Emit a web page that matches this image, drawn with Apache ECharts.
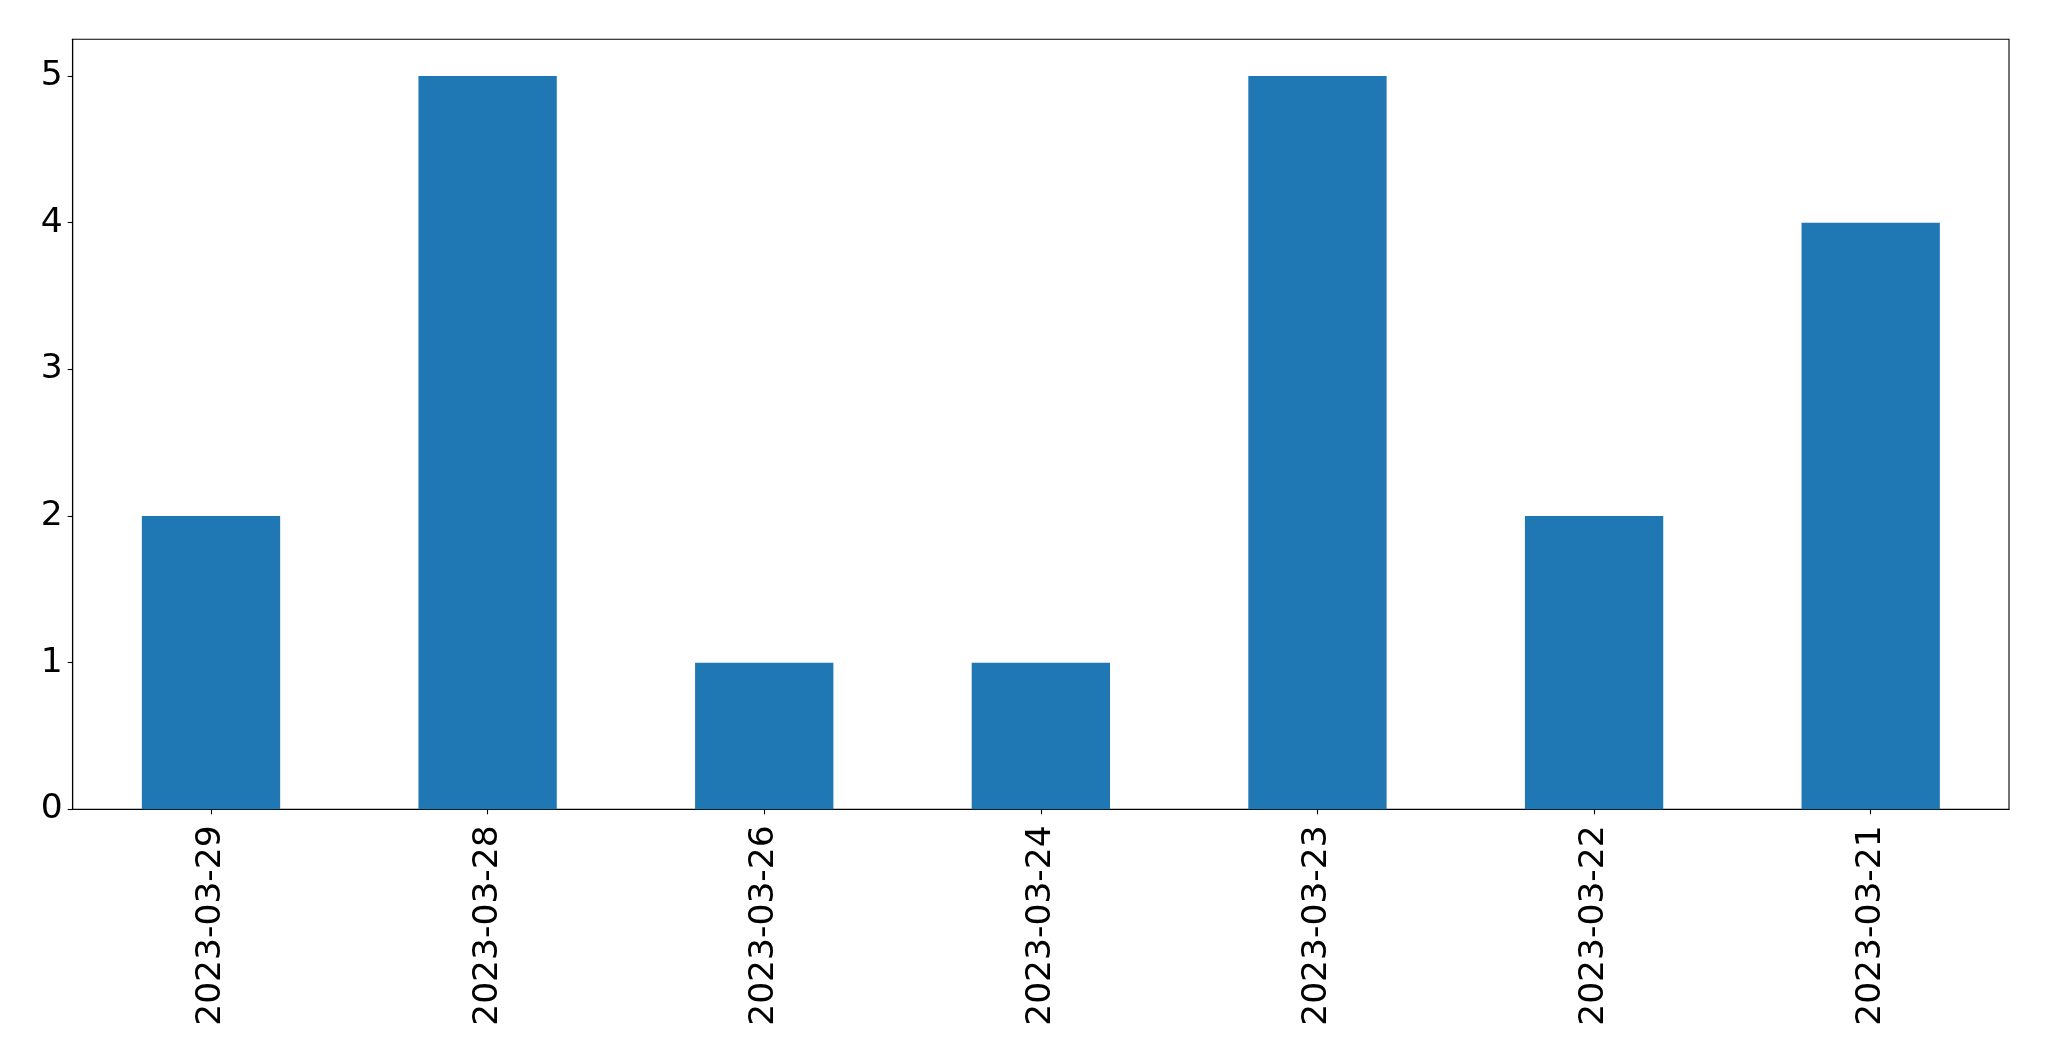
<!DOCTYPE html>
<html>
<head>
<meta charset="utf-8">
<script src="https://cdn.jsdelivr.net/npm/echarts@6/dist/echarts.min.js"></script>
<style>
html,body{margin:0;padding:0;background:#fff;}
#chart{width:2049px;height:1061px;}
</style>
</head>
<body>
<div id="chart"></div>
<script>
const categories = ['2023-03-29','2023-03-28','2023-03-26','2023-03-24','2023-03-23','2023-03-22','2023-03-21'];
const values = [2, 5, 1, 1, 5, 2, 4];
const yTicks = [0, 1, 2, 3, 4, 5];

const chart = echarts.init(document.getElementById('chart'), null, {renderer: 'canvas'});
const font = 'DejaVu Sans';
chart.setOption({
  animation: false,
  backgroundColor: '#fff',
  grid: {
    left: 72.7, top: 39.3, right: 40, bottom: 251.7,
    show: true, borderColor: '#000', borderWidth: 1.1, backgroundColor: 'transparent'
  },
  xAxis: {
    type: 'category',
    data: categories,
    boundaryGap: true,
    axisLine: {show: true, onZero: false, lineStyle: {color: '#000', width: 1.1}},
    axisTick: {show: true, alignWithLabel: true, length: 5, lineStyle: {color: '#000', width: 1.1}},
    axisLabel: {rotate: 90, margin: 16, fontFamily: font, fontSize: 34.5, color: '#000', interval: 0}
  },
  yAxis: {
    type: 'value',
    min: 0, max: 5.25, interval: 1,
    splitLine: {show: false},
    axisLine: {show: true, lineStyle: {color: '#000', width: 1.1}},
    axisTick: {show: true, length: 5, customValues: yTicks, lineStyle: {color: '#000', width: 1.1}},
    axisLabel: {margin: 10, fontFamily: font, fontSize: 34.5, color: '#000', customValues: yTicks}
  },
  series: [{
    type: 'bar',
    data: values,
    barWidth: '50%',
    itemStyle: {color: '#1f77b4'}
  }]
});
</script>
</body>
</html>
